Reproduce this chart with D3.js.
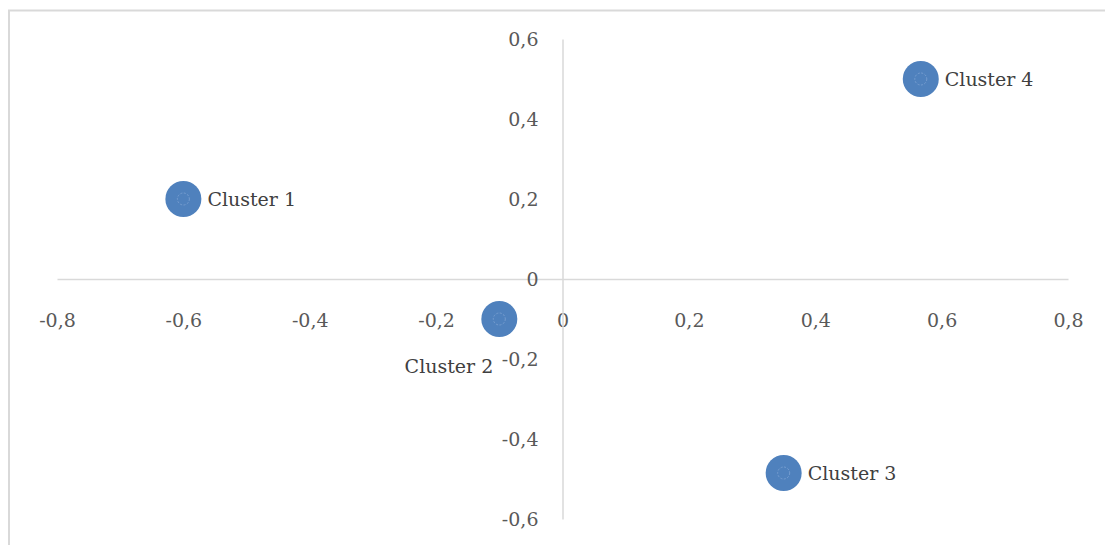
<!DOCTYPE html>
<html><head><meta charset="utf-8">
<script src="https://cdn.jsdelivr.net/npm/d3@7"></script>
<style>html,body{margin:0;padding:0;background:#fff;}svg{display:block;}</style>
</head><body>
<svg id="c" width="1105" height="545"></svg>
<script>
const clusters = ["Cluster 1", "Cluster 2", "Cluster 3", "Cluster 4"];
const xValues = [-0.6, -0.1, 0.35, 0.567];
const yValues = [0.2, -0.1, -0.485, 0.5];
const labelPos = ["right", "below-left", "right", "right"];
const xTicks = [-0.8, -0.6, -0.4, -0.2, 0, 0.2, 0.4, 0.6, 0.8];
const yTicks = [-0.6, -0.4, -0.2, 0, 0.2, 0.4, 0.6];

const svg = d3.select("#c");
const font = "'DejaVu Serif', serif";
const fmt = v => (Math.abs(v) < 1e-9 ? "0" : d3.format(".1f")(v).replace(".", ",").replace("−", "-"));

// chart border
svg.append("rect").attr("x", 9).attr("y", 10.5).attr("width", 1110).attr("height", 560)
  .attr("fill", "none").attr("stroke", "#d9d9d9").attr("stroke-width", 2);

const x = d3.scaleLinear().domain([-0.8, 0.8]).range([57, 1068]);
const y = d3.scaleLinear().domain([-0.6, 0.6]).range([519, 39]);

const xAxis = d3.axisBottom(x).tickValues(xTicks).tickSize(0).tickFormat(fmt);
const gx = svg.append("g").attr("transform", `translate(0,${y(0)})`).call(xAxis);
gx.select(".domain").attr("stroke", "#d9d9d9").attr("stroke-width", 1.5);
gx.selectAll("text").attr("font-family", font).attr("font-size", 19).attr("fill", "#595959")
  .attr("y", 41).attr("dy", "0.35em");

const yAxis = d3.axisLeft(y).tickValues(yTicks).tickSize(0).tickFormat(fmt);
const gy = svg.append("g").attr("transform", `translate(${x(0)},0)`).call(yAxis);
gy.select(".domain").attr("stroke", "#d9d9d9").attr("stroke-width", 1.5);
gy.selectAll("text").attr("font-family", font).attr("font-size", 19).attr("fill", "#595959")
  .attr("x", -24).attr("dy", "0.35em");

const data = clusters.map((c, i) => ({name: c, x: xValues[i], y: yValues[i], pos: labelPos[i]}));
const g = svg.append("g");
g.selectAll("circle.b").data(data).enter().append("circle").attr("class", "b")
  .attr("cx", d => x(d.x)).attr("cy", d => y(d.y)).attr("r", 18)
  .attr("fill", "#4f81bd");
g.selectAll("circle.i").data(data).enter().append("circle").attr("class", "i")
  .attr("cx", d => x(d.x)).attr("cy", d => y(d.y)).attr("r", 6)
  .attr("fill", "none").attr("stroke", "#7fa3d3").attr("stroke-width", 0.8).attr("stroke-dasharray", "2,1.5");

g.selectAll("text").data(data).enter().append("text")
  .attr("x", d => d.pos === "right" ? x(d.x) + 24 : x(d.x) - 6)
  .attr("y", d => d.pos === "right" ? y(d.y) : y(d.y) + 47)
  .attr("dy", "0.35em")
  .attr("text-anchor", d => d.pos === "right" ? "start" : "end")
  .attr("font-family", font).attr("font-size", 19).attr("fill", "#404040")
  .text(d => d.name);
</script>
</body></html>
